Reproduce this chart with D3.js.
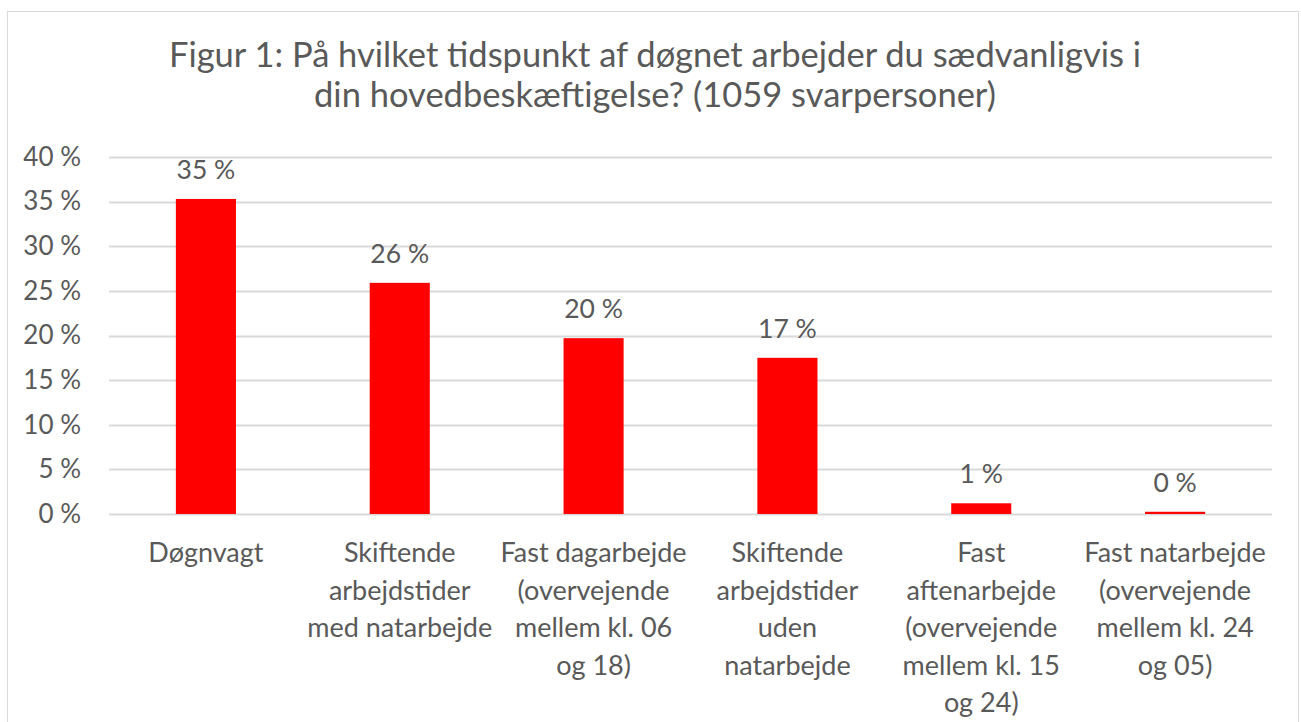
<!DOCTYPE html>
<html>
<head>
<meta charset="utf-8">
<script src="https://cdn.jsdelivr.net/npm/d3@7/dist/d3.min.js"></script>
<style>
  html, body { margin: 0; padding: 0; background: #fff; }
  svg { display: block; font-family: Lato, "Open Sans", sans-serif; }
</style>
</head>
<body>
<svg id="chart" width="1301" height="722"></svg>
<script>
const titleLines = [
  "Figur 1: På hvilket tidspunkt af døgnet arbejder du sædvanligvis i",
  "din hovedbeskæftigelse? (1059 svarpersoner)"
];
const categories = [
  "Døgnvagt",
  "Skiftende\narbejdstider\nmed natarbejde",
  "Fast dagarbejde\n(overvejende\nmellem kl. 06\nog 18)",
  "Skiftende\narbejdstider\nuden\nnatarbejde",
  "Fast\naftenarbejde\n(overvejende\nmellem kl. 15\nog 24)",
  "Fast natarbejde\n(overvejende\nmellem kl. 24\nog 05)"
];
const values = [35.3, 25.9, 19.7, 17.5, 1.2, 0.25];
const dataLabels = ["35 %", "26 %", "20 %", "17 %", "1 %", "0 %"];
const yTicks = [0, 5, 10, 15, 20, 25, 30, 35, 40];

const textColor = "#595959";
const svg = d3.select("#chart");

svg.append("rect")
  .attr("x", 7.5).attr("y", 11.5)
  .attr("width", 1291).attr("height", 730)
  .attr("fill", "#fff").attr("stroke", "#d9d9d9").attr("stroke-width", 1);

const plotLeft = 109, plotRight = 1272, plotTop = 157, plotBottom = 514;

const x = d3.scaleBand().domain(categories).range([plotLeft, plotRight])
  .paddingInner(0.69).paddingOuter(0.345);
const y = d3.scaleLinear().domain([0, 40]).range([plotBottom, plotTop]);

// gridlines
svg.append("g").selectAll("line").data(yTicks).join("line")
  .attr("x1", plotLeft).attr("x2", plotRight)
  .attr("y1", d => Math.round(y(d)) + 0.5).attr("y2", d => Math.round(y(d)) + 0.5)
  .attr("stroke", "#d9d9d9").attr("stroke-width", 2);

// y axis labels
const yAxis = d3.axisLeft(y).tickValues(yTicks).tickSize(0).tickPadding(0)
  .tickFormat(d => d + " %");
const yg = svg.append("g").attr("transform", `translate(81,0)`).call(yAxis);
yg.select(".domain").remove();
yg.selectAll("text").attr("fill", textColor).style("font-size", "26px")
  .style("font-family", "Lato, sans-serif");

// bars
svg.append("g").selectAll("rect").data(values).join("rect")
  .attr("x", (d, i) => x(categories[i]))
  .attr("width", x.bandwidth())
  .attr("y", d => y(d))
  .attr("height", d => y(0) - y(d))
  .attr("fill", "#ff0000");

// data labels
svg.append("g").selectAll("text").data(values).join("text")
  .attr("x", (d, i) => x(categories[i]) + x.bandwidth() / 2)
  .attr("y", d => y(d) - 20)
  .attr("text-anchor", "middle")
  .attr("fill", textColor).style("font-size", "26.5px")
  .text((d, i) => dataLabels[i]);

// x labels
const xg = svg.append("g");
categories.forEach(c => {
  const t = xg.append("text")
    .attr("x", x(c) + x.bandwidth() / 2)
    .attr("y", 562)
    .attr("text-anchor", "middle")
    .attr("fill", textColor).style("font-size", "27px");
  c.split("\n").forEach((line, j) => {
    t.append("tspan").attr("x", x(c) + x.bandwidth() / 2)
      .attr("y", 562 + j * 37.5).text(line);
  });
});

// title
svg.append("g").selectAll("text").data(titleLines).join("text")
  .attr("x", 655).attr("y", (d, i) => 67 + i * 40)
  .attr("text-anchor", "middle")
  .attr("fill", textColor).style("font-size", "34.5px")
  .text(d => d);
</script>
</body>
</html>
